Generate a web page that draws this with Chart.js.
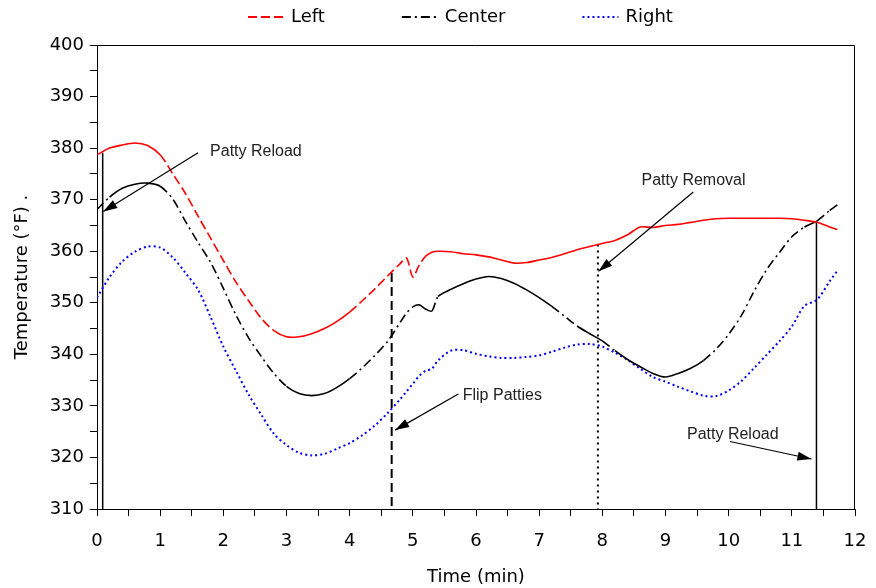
<!DOCTYPE html>
<html>
<head>
<meta charset="utf-8">
<title>Griddle surface temperature</title>
<script src="https://cdn.jsdelivr.net/npm/chart.js@4.4.1/dist/chart.umd.min.js"></script>
<style>
  html, body { margin: 0; padding: 0; background: #fff; }
</style>
</head>
<body>
<canvas id="tempChart" width="876" height="588"></canvas>
<script>
// Sample times (min) shared by the three thermocouples
const timeMin = [0, 0.2, 0.4, 0.6, 0.8, 1.0, 1.2, 1.4, 1.6, 1.8, 2.0, 2.2, 2.4, 2.6, 2.8, 3.0,
  3.2, 3.4, 3.6, 3.8, 4.0, 4.2, 4.4, 4.6, 4.8, 4.9, 5.0, 5.1, 5.2, 5.3, 5.4, 5.6, 5.8, 6.0,
  6.2, 6.4, 6.6, 6.8, 7.0, 7.2, 7.4, 7.6, 7.8, 8.0, 8.2, 8.4, 8.6, 8.8, 9.0, 9.2, 9.4, 9.6,
  9.8, 10.0, 10.2, 10.4, 10.6, 10.8, 11.0, 11.2, 11.4, 11.6, 11.72];

// Temperatures (°F)
const leftTemp = [378.7, 380.0, 380.6, 381.0, 380.5, 378.7, 375.0, 371.2, 366.8, 362.5, 358.2,
  354.0, 350.4, 347.0, 344.6, 343.4, 343.4, 344.0, 345.0, 346.4, 348.2, 350.4, 352.7, 355.2,
  357.6, 358.7, 355.0, 357.3, 359.0, 359.8, 360.0, 359.9, 359.5, 359.3, 358.9, 358.3, 357.7,
  357.8, 358.3, 358.8, 359.5, 360.3, 360.9, 361.5, 362.1, 363.2, 364.7, 364.6, 365.0, 365.2,
  365.6, 366.0, 366.3, 366.4, 366.4, 366.4, 366.4, 366.4, 366.3, 366.0, 365.6, 364.7, 364.2];
const centerTemp = [368.1, 370.5, 372.2, 373.0, 373.2, 372.6, 370.1, 365.8, 361.7, 357.8, 352.8,
  347.6, 343.2, 339.6, 336.3, 333.8, 332.4, 332.0, 332.4, 333.6, 335.3, 337.4, 339.8, 342.5,
  346.2, 348.0, 349.2, 349.6, 348.8, 348.4, 351.2, 352.6, 353.7, 354.6, 355.1, 354.7, 353.8,
  352.5, 351.0, 349.3, 347.4, 345.5, 344.0, 342.6, 340.7, 339.0, 337.6, 336.3, 335.6, 336.3,
  337.3, 338.8, 341.0, 343.9, 347.5, 352.2, 356.4, 359.7, 362.8, 364.7, 365.9, 367.9, 369.0];
const rightTemp = [351.0, 355.0, 358.0, 359.9, 360.9, 360.7, 358.8, 355.8, 352.5, 347.2, 341.5,
  336.8, 332.2, 328.3, 324.6, 322.4, 320.9, 320.4, 320.7, 321.7, 322.8, 324.3, 326.2, 328.6,
  331.3, 332.8, 334.3, 335.8, 336.8, 337.2, 338.8, 340.7, 340.8, 340.1, 339.6, 339.3, 339.3,
  339.5, 339.8, 340.5, 341.3, 341.9, 342.0, 341.5, 340.3, 338.9, 337.2, 335.6, 334.7, 333.7,
  332.8, 332.0, 331.9, 333.0, 334.8, 337.3, 339.9, 342.5, 345.4, 349.4, 350.6, 354.2, 356.2];

// Process events: time and the temperature where each marker starts
const eventTime = [0.09, 4.665, 7.93, 11.39];
const eventTop = [379.1, 355.8, 361.3, 365.8];

// Callout labels: text, label anchor, arrow tail and arrow tip (min, °F)
const noteText = ['Patty Reload', 'Flip Patties', 'Patty Removal', 'Patty Reload'];
const noteAt = [[1.79, 379.3], [5.79, 332.0], [8.62, 373.7], [9.34, 324.5]];
const arrowFrom = [[1.60, 379.1], [5.72, 332.3], [9.44, 371.5], [10.02, 323.1]];
const arrowTo = [[0.10, 367.7], [4.72, 325.3], [7.94, 356.1], [11.31, 319.7]];

const xTicks = { min: 0, max: 12, step: 0.5 };
const yTicks = { min: 310, max: 400, step: 5 };

const FONT = 'DejaVu Sans';
const NOTE_FONT = '16px "Liberation Sans", Arial, sans-serif';

const toPoints = vals => vals.map((v, i) => ({ x: timeMin[i], y: v }));

// the recorder's dash pattern only shows on the steep stretches
const steepDash = ctx => {
  const dx = Math.abs(ctx.p1.x - ctx.p0.x);
  const dy = Math.abs(ctx.p1.y - ctx.p0.y);
  return dy > 0.75 * dx ? undefined : [];
};

const series = [
  { label: 'Left', data: toPoints(leftTemp), borderColor: '#ff0000', borderWidth: 1.6,
    borderDash: [9, 4], segment: { borderDash: steepDash } },
  { label: 'Center', data: toPoints(centerTemp), borderColor: '#000000', borderWidth: 1.6,
    borderDash: [9, 4, 2, 4], segment: { borderDash: steepDash } },
  { label: 'Right', data: toPoints(rightTemp), borderColor: '#0000ff', borderWidth: 2,
    borderDash: [2, 3] }
];

const eventDash = [[], [9, 5], [2, 4], []];
const eventWidth = [1.5, 2, 2, 1.5];
const markers = eventTime.map((t, i) => ({
  label: 'event' + i,
  data: [{ x: t, y: eventTop[i] }, { x: t, y: yTicks.min }],
  borderColor: '#000', borderWidth: eventWidth[i], borderDash: eventDash[i], tension: 0
}));

// top and right edges of the plot box
const frame = {
  id: 'frame',
  afterDraw(chart) {
    const { ctx, chartArea: a } = chart;
    ctx.save();
    ctx.strokeStyle = '#000';
    ctx.lineWidth = 1;
    ctx.beginPath();
    ctx.moveTo(a.left, a.top + 0.5);
    ctx.lineTo(a.right - 0.5, a.top + 0.5);
    ctx.lineTo(a.right - 0.5, a.bottom);
    ctx.stroke();
    ctx.restore();
  }
};

function drawArrow(ctx, x0, y0, x1, y1) {
  ctx.beginPath();
  ctx.moveTo(x0, y0);
  ctx.lineTo(x1, y1);
  ctx.stroke();
  const a = Math.atan2(y1 - y0, x1 - x0);
  const len = 14, half = 4.5;
  ctx.beginPath();
  ctx.moveTo(x1, y1);
  ctx.lineTo(x1 - len * Math.cos(a) + half * Math.sin(a), y1 - len * Math.sin(a) - half * Math.cos(a));
  ctx.lineTo(x1 - len * Math.cos(a) - half * Math.sin(a), y1 - len * Math.sin(a) + half * Math.cos(a));
  ctx.closePath();
  ctx.fill();
}

const callouts = {
  id: 'callouts',
  afterDraw(chart) {
    const { ctx, scales: { x, y } } = chart;
    ctx.save();
    ctx.strokeStyle = '#000';
    ctx.fillStyle = '#000';
    ctx.lineWidth = 1.2;
    noteText.forEach((txt, i) => {
      drawArrow(ctx,
        x.getPixelForValue(arrowFrom[i][0]), y.getPixelForValue(arrowFrom[i][1]),
        x.getPixelForValue(arrowTo[i][0]), y.getPixelForValue(arrowTo[i][1]));
    });
    ctx.font = NOTE_FONT;
    ctx.fillStyle = '#222';
    ctx.textBaseline = 'middle';
    ctx.textAlign = 'left';
    noteText.forEach((txt, i) => {
      ctx.fillText(txt, x.getPixelForValue(noteAt[i][0]), y.getPixelForValue(noteAt[i][1]));
    });
    ctx.restore();
  }
};

// legend across the top with line samples
const topLegend = {
  id: 'topLegend',
  afterDraw(chart) {
    const ctx = chart.ctx;
    const sample = 36, gap = 7, spacing = 77, cy = 17;
    let cx = 248;
    ctx.save();
    ctx.font = '18px "' + FONT + '"';
    ctx.textBaseline = 'middle';
    chart.data.datasets.slice(0, 3).forEach(ds => {
      ctx.strokeStyle = ds.borderColor;
      ctx.lineWidth = 2;
      ctx.setLineDash(ds.borderDash);
      ctx.beginPath();
      ctx.moveTo(cx, cy);
      ctx.lineTo(cx + sample, cy);
      ctx.stroke();
      ctx.setLineDash([]);
      ctx.fillStyle = '#000';
      ctx.fillText(ds.label, cx + sample + gap, cy);
      cx += sample + gap + ctx.measureText(ds.label).width + spacing;
    });
    ctx.restore();
  }
};

const axisFont = { family: FONT, size: 18 };

new Chart(document.getElementById('tempChart'), {
  type: 'line',
  data: { datasets: [...series, ...markers] },
  options: {
    responsive: false,
    animation: false,
    layout: { padding: { top: 45, right: 21, left: 0, bottom: 0 } },
    elements: { point: { radius: 0 }, line: { tension: 0.3 } },
    plugins: { legend: { display: false }, tooltip: { enabled: false } },
    scales: {
      x: {
        type: 'linear',
        min: xTicks.min,
        max: xTicks.max,
        afterFit: s => {
          s.height = 79;
          // keep the edge labels from widening the side margins
          s.paddingLeft = 0;
          s.paddingRight = 0;
        },
        ticks: {
          stepSize: xTicks.step, autoSkip: false, maxRotation: 0, padding: 15,
          color: '#000', font: axisFont,
          callback: v => Number.isInteger(v) ? v : ''
        },
        grid: { drawOnChartArea: false, tickLength: 7, color: '#000' },
        border: { color: '#000' },
        title: { display: true, text: 'Time (min)', color: '#000', font: axisFont,
          padding: { top: 0, bottom: 0 } }
      },
      y: {
        min: yTicks.min,
        max: yTicks.max,
        afterFit: s => { s.width = 97; },
        ticks: {
          stepSize: yTicks.step, autoSkip: false, padding: 6,
          color: '#000', font: axisFont,
          callback: v => v % 10 === 0 ? v : ''
        },
        grid: { drawOnChartArea: false, tickLength: 7, color: '#000' },
        border: { color: '#000' },
        title: { display: true, text: 'Temperature (°F) .', color: '#000', font: axisFont,
          padding: { top: 12, bottom: 0 } }
      }
    }
  },
  plugins: [frame, callouts, topLegend]
});
</script>
</body>
</html>
